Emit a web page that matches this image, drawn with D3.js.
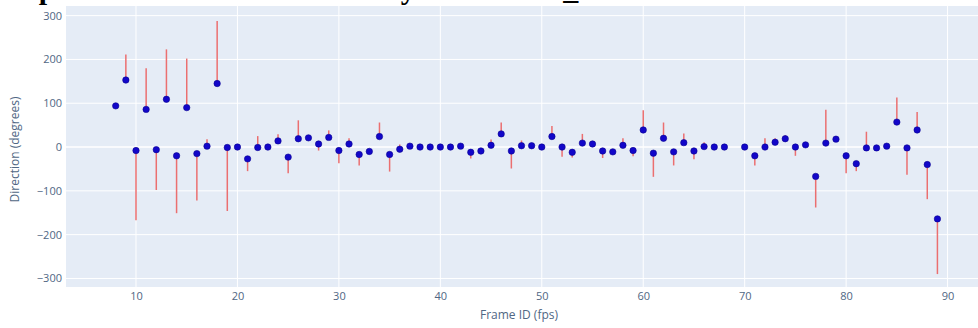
<!DOCTYPE html>
<html>
<head>
<meta charset="utf-8">
<script src="https://cdn.jsdelivr.net/npm/d3@7"></script>
<style>
  html, body { margin: 0; padding: 0; background: #fff; }
  svg { display: block; }
</style>
</head>
<body>
<svg id="chart" width="978" height="328"></svg>
<script>
// Frame ids with a measured mean direction
const frames = [8, 9, 10, 11, 12, 13, 14, 15, 16, 17, 18, 19, 20, 21, 22, 23, 24, 25, 26, 27,
  28, 29, 30, 31, 32, 33, 34, 35, 36, 37, 38, 39, 40, 41, 42, 43, 44, 45, 46, 47,
  48, 49, 50, 51, 52, 53, 54, 55, 56, 57, 58, 59, 60, 61, 62, 63, 64, 65, 66, 67,
  68, 70, 71, 72, 73, 74, 75, 76, 77, 78, 79, 80, 81, 82, 83, 84, 85, 86, 87, 88, 89];

// Mean direction per frame (degrees)
const direction = [94, 153, -8, 86, -6, 109, -20, 90, -15, 2, 145, -1, 0, -27, -1, 0, 14, -23, 19, 21,
  7, 22, -8, 7, -17, -10, 24, -17, -5, 2, 0, 0, 0, 0, 2, -12, -9, 4, 30, -9,
  3, 3, 0, 24, 0, -12, 9, 7, -9, -11, 4, -8, 39, -14, 20, -11, 10, -9, 1, 0,
  0, 0, -20, 0, 11, 19, 0, 5, -67, 9, 18, -20, -38, -2, -2, 2, 57, -2, 39, -40, -164];

// Upper error extent per frame (degrees)
const errorPlus = [0, 58, 0, 94, 0, 114, 0, 112, 0, 16, 143, 0, 0, 0, 26, 0, 15, 0, 42, 0,
  0, 16, 0, 13, 0, 0, 32, 0, 11, 0, 0, 0, 0, 0, 0, 0, 0, 13, 26, 0,
  12, 0, 0, 24, 0, 0, 21, 0, 0, 0, 16, 0, 45, 0, 36, 0, 21, 0, 10, 0,
  0, 0, 0, 20, 9, 8, 0, 0, 0, 76, 7, 0, 0, 37, 0, 0, 56, 0, 41, 0, 0];

// Lower error extent per frame (degrees)
const errorMinus = [0, 0, 159, 0, 92, 0, 131, 0, 107, 0, 0, 145, 0, 28, 0, 0, 0, 37, 0, 0,
  15, 0, 29, 0, 25, 0, 0, 39, 0, 0, 0, 0, 0, 0, 0, 14, 0, 0, 0, 40,
  0, 0, 0, 0, 22, 12, 0, 0, 16, 0, 0, 13, 0, 54, 0, 31, 0, 19, 0, 0,
  0, 0, 22, 0, 0, 0, 20, 0, 71, 0, 0, 40, 17, 0, 0, 0, 0, 61, 0, 79, 126];

const xTicks = [10, 20, 30, 40, 50, 60, 70, 80, 90];
const yTicks = [-300, -200, -100, 0, 100, 200, 300];

const titleText = "Speed and Direction Summary over frame_id";
const xTitle = "Frame ID (fps)";
const yTitle = "Direction (degrees)";

const rows = frames.map((f, i) => ({
  frame: f,
  value: direction[i],
  hi: direction[i] + errorPlus[i],
  lo: direction[i] - errorMinus[i]
}));

const plot = { left: 66, right: 978, top: 6, bottom: 287 };
const svg = d3.select("#chart");
const tickFont = "'Open Sans', 'Noto Sans', sans-serif";
const textColor = "#506784";

const x = d3.scaleLinear().domain([3.1, 93.0]).range([plot.left, plot.right]);
const y = d3.scaleLinear().domain([-319.5, 322]).range([plot.bottom, plot.top]);

// Plot background
svg.append("rect")
  .attr("x", plot.left).attr("y", plot.top)
  .attr("width", plot.right - plot.left).attr("height", plot.bottom - plot.top)
  .attr("fill", "#e5ecf6");

// Grid lines
const grid = svg.append("g");
grid.selectAll("line.gx").data(xTicks).join("line")
  .attr("x1", d => x(d)).attr("x2", d => x(d))
  .attr("y1", plot.top).attr("y2", plot.bottom)
  .attr("stroke", "#fff").attr("stroke-width", 1);
grid.selectAll("line.gy").data(yTicks).join("line")
  .attr("x1", plot.left).attr("x2", plot.right)
  .attr("y1", d => y(d)).attr("y2", d => y(d))
  .attr("stroke", "#fff").attr("stroke-width", d => d === 0 ? 1.6 : 1);

// Axes (labels only, no domain or tick marks)
const xAxis = d3.axisBottom(x).tickValues(xTicks).tickSize(0).tickPadding(5);
svg.append("g")
  .attr("transform", `translate(0,${plot.bottom})`)
  .call(xAxis)
  .call(g => g.select(".domain").remove())
  .call(g => g.selectAll("text")
    .attr("font-family", tickFont).attr("font-size", 11).attr("fill", textColor));

const yAxis = d3.axisLeft(y).tickValues(yTicks).tickSize(0).tickPadding(4);
svg.append("g")
  .attr("transform", `translate(${plot.left},0)`)
  .call(yAxis)
  .call(g => g.select(".domain").remove())
  .call(g => g.selectAll("text")
    .attr("font-family", tickFont).attr("font-size", 11).attr("fill", textColor));

// Error bars
svg.append("g").selectAll("line").data(rows.filter(r => r.hi !== r.lo)).join("line")
  .attr("x1", d => x(d.frame)).attr("x2", d => x(d.frame))
  .attr("y1", d => y(d.hi)).attr("y2", d => y(d.lo))
  .attr("stroke", "#eb6f70").attr("stroke-width", 1.5);

// Mean direction markers
svg.append("g").selectAll("circle").data(rows).join("circle")
  .attr("cx", d => x(d.frame)).attr("cy", d => y(d.value))
  .attr("r", 3.2)
  .attr("fill", "#1206c9")
  .attr("stroke", "#0a0390").attr("stroke-width", 0.6);

// Axis titles
svg.append("text")
  .attr("x", (plot.left + plot.right) / 2 - 3).attr("y", 319)
  .attr("text-anchor", "middle")
  .attr("font-family", tickFont).attr("font-size", 12).attr("fill", textColor)
  .text(xTitle);

svg.append("text")
  .attr("transform", `translate(19,${(plot.top + plot.bottom) / 2 + 3}) rotate(-90)`)
  .attr("text-anchor", "middle")
  .attr("font-family", tickFont).attr("font-size", 12).attr("fill", textColor)
  .text(yTitle);

// Title, sitting above the top edge of the page
svg.append("text")
  .attr("x", 22).attr("y", -1)
  .attr("font-family", "'Liberation Serif', 'DejaVu Serif', serif")
  .attr("font-weight", "bold").attr("font-size", 30).attr("fill", "#000")
  .text(titleText);
</script>
</body>
</html>
